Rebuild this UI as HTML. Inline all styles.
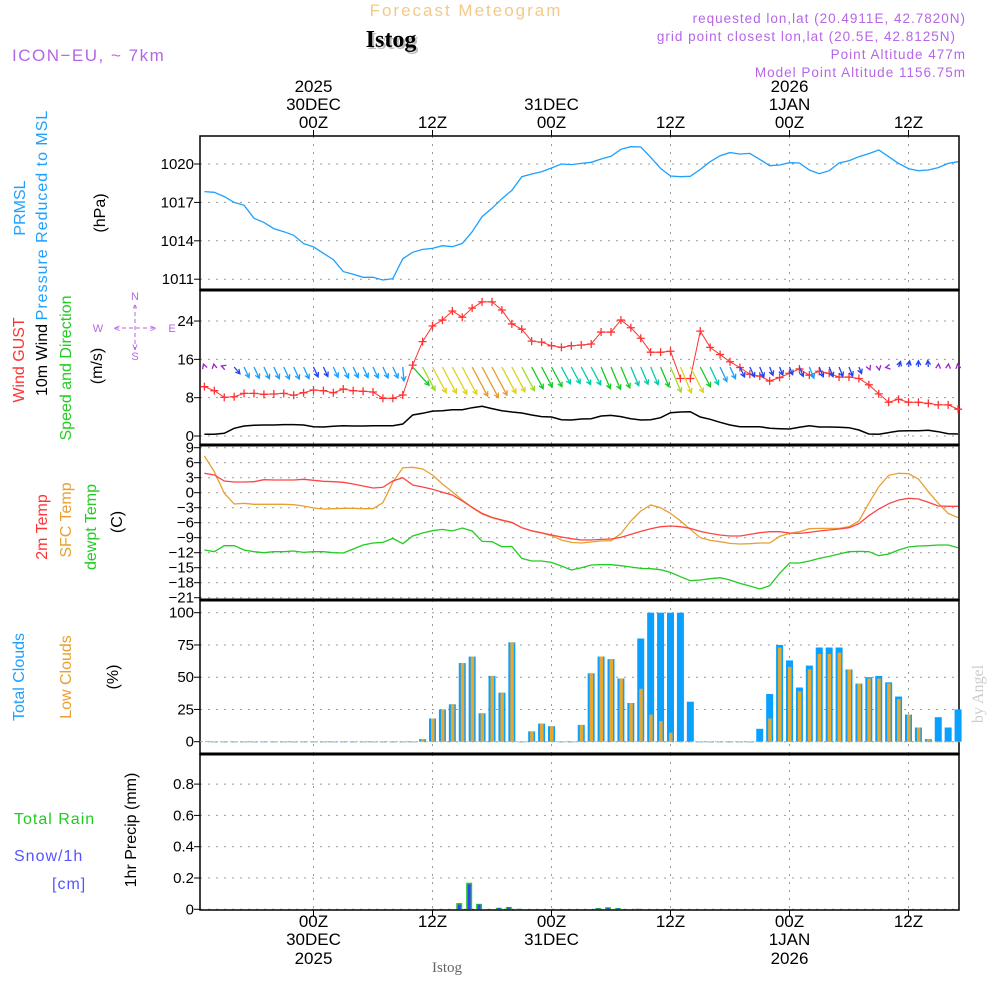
<!DOCTYPE html>
<html><head><meta charset="utf-8"><style>
html,body{margin:0;padding:0;background:#fff;}
svg{display:block;font-family:"Liberation Sans",sans-serif;}
</style></head><body>
<svg id="chart" width="1000" height="1000" viewBox="0 0 1000 1000">
<g id="header">
<text x="466" y="16" font-size="17" fill="#f3c98a" text-anchor="middle" letter-spacing="2">Forecast Meteogram</text>
<text x="393" y="49" font-size="24" font-weight="bold" fill="#bbb" text-anchor="middle" font-family="Liberation Serif,serif">Istog</text>
<text x="391" y="47" font-size="24" font-weight="bold" fill="#000" text-anchor="middle" font-family="Liberation Serif,serif">Istog</text>
<text x="12" y="61" font-size="17" fill="#b566e8" letter-spacing="1.5">ICON−EU, ~ 7km</text>
<g font-size="13.5" fill="#b566e8" text-anchor="end" letter-spacing="1">
<text x="966" y="23">requested lon,lat (20.4911E, 42.7820N)</text>
<text x="956" y="41">grid point closest lon,lat (20.5E, 42.8125N)</text>
<text x="966" y="59">Point Altitude 477m</text>
<text x="966" y="77">Model Point Altitude 1156.75m</text>
</g>
</g>
<g id="frames"></g>
<g id="plots"></g>
<g id="labels" font-size="15">
<g>
<text transform="translate(25,208) rotate(-90)" fill="#1ea0ff" text-anchor="middle" font-size="16">PRMSL</text>
<text transform="translate(47,215) rotate(-90)" fill="#1ea0ff" text-anchor="middle" font-size="16" letter-spacing="1">Pressure Reduced to MSL</text>
<text transform="translate(105,213) rotate(-90)" fill="#000" text-anchor="middle" font-size="16">(hPa)</text>
</g>
<g>
<text transform="translate(24,360) rotate(-90)" fill="#ff3333" text-anchor="middle" font-size="16">Wind GUST</text>
<text transform="translate(47,360) rotate(-90)" fill="#000" text-anchor="middle" font-size="16">10m Wind</text>
<text transform="translate(71,368) rotate(-90)" fill="#22cc22" text-anchor="middle" font-size="16">Speed and Direction</text>
<text transform="translate(102,366) rotate(-90)" fill="#000" text-anchor="middle" font-size="16">(m/s)</text>
</g>
<g fill="#b566e8" stroke="none" font-size="11" text-anchor="middle">
<text x="135" y="300">N</text><text x="135" y="360">S</text><text x="98" y="332">W</text><text x="172" y="332">E</text>
<line x1="115" y1="328" x2="157" y2="328" stroke="#b566e8" stroke-dasharray="4,3"/>
<line x1="135" y1="305" x2="135" y2="350" stroke="#b566e8" stroke-dasharray="4,3"/>
<text x="135" y="312" font-size="10">^</text><text x="135" y="350" font-size="10">v</text>
<text x="117" y="332" font-size="11">&lt;</text><text x="153" y="332" font-size="11">&gt;</text>
</g>
<g>
<text transform="translate(47,527) rotate(-90)" fill="#ff3333" text-anchor="middle" font-size="16">2m Temp</text>
<text transform="translate(71,520) rotate(-90)" fill="#e8a030" text-anchor="middle" font-size="16">SFC Temp</text>
<text transform="translate(96,527) rotate(-90)" fill="#22cc22" text-anchor="middle" font-size="16">dewpt Temp</text>
<text transform="translate(122,522) rotate(-90)" fill="#000" text-anchor="middle" font-size="16">(C)</text>
</g>
<g>
<text transform="translate(24,677) rotate(-90)" fill="#1ea0ff" text-anchor="middle" font-size="16">Total Clouds</text>
<text transform="translate(71,677) rotate(-90)" fill="#e8a030" text-anchor="middle" font-size="16">Low Clouds</text>
<text transform="translate(118,677) rotate(-90)" fill="#000" text-anchor="middle" font-size="16">(%)</text>
</g>
<g>
<text x="14" y="824" fill="#22cc22" font-size="16" letter-spacing="1">Total   Rain</text>
<text x="14" y="861" fill="#5555ff" font-size="16" letter-spacing="1">Snow/1h</text>
<text x="52" y="889" fill="#5555ff" font-size="16" letter-spacing="1">[cm]</text>
<text transform="translate(136,830) rotate(-90)" fill="#000" text-anchor="middle" font-size="16">1hr Precip (mm)</text>
</g>
<text transform="translate(983,694) rotate(-90)" fill="#ccc" text-anchor="middle" font-size="16" font-family="Liberation Serif,serif">by Angel</text>
<text x="447" y="972" fill="#666" text-anchor="middle" font-size="15" font-family="Liberation Serif,serif">Istog</text>
</g>
</svg>
<script>
// ---- data (hourly, hours relative to 30DEC 00Z) ----
const hourStart = -11;
const pressure = [1017.84,1017.79,1017.45,1017.0,1016.77,1015.76,1015.44,1014.95,1014.71,1014.43,1013.78,1013.52,1013.02,1012.53,1011.59,1011.38,1011.15,1011.15,1010.94,1011.04,1012.6,1013.1,1013.33,1013.41,1013.62,1013.54,1013.8,1014.71,1015.89,1016.54,1017.29,1017.94,1019.01,1019.22,1019.4,1019.69,1020.0,1019.95,1020.05,1020.13,1020.39,1020.6,1021.15,1021.35,1021.33,1020.52,1019.66,1019.06,1019.01,1019.04,1019.58,1020.18,1020.65,1020.89,1020.78,1020.83,1020.36,1019.87,1019.92,1020.1,1020.08,1019.53,1019.24,1019.48,1020.08,1020.26,1020.57,1020.81,1021.09,1020.57,1020.05,1019.64,1019.48,1019.53,1019.72,1020.05,1020.18];
const gust = [10.3,9.46,8.07,8.2,8.9,8.9,8.7,8.77,8.9,8.5,9.04,9.6,9.46,9.04,9.8,9.46,9.33,9.19,7.87,7.87,8.56,14.8,19.7,22.96,24.2,26.1,24.8,26.7,28.0,28.0,26.3,23.4,22.3,19.8,19.6,18.85,18.5,18.85,19.0,19.2,21.7,21.7,24.2,22.6,20.4,17.5,17.5,17.7,12.0,12.0,21.9,18.5,17.0,15.5,14.3,12.9,12.5,11.5,12.2,13.1,14.0,12.7,13.5,13.1,12.3,12.3,12.0,10.7,8.8,7.05,7.66,7.05,7.05,6.8,6.5,6.5,5.6];
const windSpeed = [0.35,0.35,0.56,1.6,2.09,2.23,2.3,2.3,2.37,2.37,2.3,1.95,1.88,2.02,2.16,2.09,2.09,2.16,2.16,2.16,2.5,4.38,4.73,5.2,5.29,5.5,5.5,5.9,6.19,5.71,5.29,5.01,4.8,4.38,4.04,3.97,3.41,3.34,3.55,3.62,4.18,4.31,4.04,3.62,3.34,3.41,3.83,4.87,5.01,5.08,3.97,3.48,2.85,2.3,1.95,1.95,1.95,1.6,1.53,1.46,1.81,2.16,1.88,1.88,1.81,1.74,1.25,0.42,0.35,0.7,1.04,1.11,1.11,1.18,0.9,0.49,0.42];
const windDir = [160,170,110,320,335,335,335,335,335,335,335,335,335,335,335,335,335,335,335,335,355,318,332,332,332,332,332,332,332,332,332,332,332,332,332,332,332,332,332,332,337,337,337,337,337,337,337,337,337,333,333,335,335,335,335,335,338,338,338,338,338,338,338,338,338,338,338,338,350,80,200,190,180,175,185,185,170,260].slice(0,77);
const temp2m = [3.87,3.54,2.34,2.14,2.14,2.2,2.6,2.54,2.54,2.54,2.67,2.47,2.27,2.2,2.07,1.74,1.34,0.94,1.07,2.34,3.0,1.54,1.14,0.67,0.07,-0.46,-1.66,-2.93,-4.13,-4.93,-5.46,-5.93,-7.0,-7.6,-8.0,-8.46,-8.86,-9.2,-9.46,-9.46,-9.33,-9.26,-8.93,-8.33,-7.73,-7.2,-6.8,-6.66,-6.8,-7.13,-7.73,-8.13,-8.46,-8.66,-8.66,-8.33,-8.0,-7.8,-7.8,-8.06,-8.13,-7.93,-7.66,-7.46,-7.26,-7.0,-6.2,-4.6,-3.26,-2.2,-1.46,-1.13,-1.26,-1.93,-2.66,-2.73,-2.73];
const tempSfc = [7.34,4.2,-0.12,-2.26,-2.13,-2.33,-2.33,-2.33,-2.33,-2.4,-2.66,-3.06,-3.26,-3.2,-3.13,-3.13,-3.2,-3.2,-2.0,2.07,5.0,5.07,4.74,3.54,1.74,0.2,-1.46,-3.0,-4.26,-5.0,-5.53,-6.0,-7.0,-7.66,-8.06,-8.6,-9.46,-9.93,-10.06,-9.86,-9.66,-9.6,-8.2,-5.66,-3.66,-2.46,-3.0,-4.13,-5.6,-7.33,-9.0,-9.53,-9.8,-10.13,-10.26,-10.2,-10.06,-10.06,-8.73,-8.13,-7.8,-7.2,-7.13,-7.13,-7.13,-6.8,-5.66,-2.13,1.2,3.47,3.87,3.8,2.74,0.2,-2.13,-4.13,-5.0];
const dewpt = [-11.46,-11.8,-10.6,-10.6,-11.46,-11.8,-12.0,-11.8,-11.8,-11.66,-11.93,-11.8,-11.8,-12.0,-12.06,-11.26,-10.46,-10.06,-9.93,-9.13,-10.2,-8.66,-8.06,-7.6,-7.33,-7.66,-7.06,-7.66,-9.73,-9.8,-10.8,-10.73,-13.13,-13.66,-13.66,-13.93,-14.66,-15.46,-15.0,-14.46,-14.4,-14.4,-14.6,-14.86,-15.13,-15.2,-15.4,-15.93,-16.8,-17.6,-17.46,-17.2,-17.0,-17.46,-18.13,-18.66,-19.26,-18.6,-16.13,-14.06,-14.06,-13.66,-13.13,-12.73,-12.26,-11.8,-11.73,-11.8,-12.6,-12.26,-11.46,-10.86,-10.66,-10.6,-10.46,-10.46,-11.0];
const cloudStart = -10;
const totalClouds = [0,0,0,0,0,0,0,0,0,0,0,0,0,0,0,0,0,0,0,0,0,2,18,25,29,61,66,22,51,38,77,0,8,14,12,0,0,13,53,66,64,49,30,80,100,100,100,100,31,0,0,0,0,0,0,10,37,75,63,42,59,73,73,73,56,45,50,51,46,35,21,11,2,19,11,25];
const lowClouds = [0,0,0,0,0,0,0,0,0,0,0,0,0,0,0,0,0,0,0,0,0,2,18,25,29,61,66,22,51,38,77,0,8,14,12,0,0,13,53,66,64,49,30,41,21,16,7,0,0,0,0,0,0,0,0,0,18,73,58,39,56,68,68,69,56,45,49,49,45,33,21,11,2,0,0,0];
const precipHours = [15,16,17,19,20,21,29,30,31,33];
const precipTotal = [0.04,0.17,0.035,0.01,0.015,0.003,0.008,0.013,0.008,0.003];
const snowTotal = [0.03,0.16,0.03,0.008,0.012,0.003,0.006,0.01,0.006,0.003];
const pressTicks = [1011,1014,1017,1020];
const windTicks = [0,8,16,24];
const tempTicks = [9,6,3,0,-3,-6,-9,-12,-15,-18,-21];
const cloudTicks = [0,25,50,75,100];
const precipTicks = [0,0.2,0.4,0.6,0.8];
const timeTickHours = [0,12,24,36,48,60];
const topLabels = [["2025","30DEC","00Z"],["","","12Z"],["","31DEC","00Z"],["","","12Z"],["2026","1JAN","00Z"],["","","12Z"]];
const bottomLabels = [["00Z","30DEC","2025"],["12Z","",""],["00Z","31DEC",""],["12Z","",""],["00Z","1JAN","2026"],["12Z","",""]];

// ---- axes ----
const X0=200, X1=959;
const x = h => 313.5 + h*119/12;
const yP = p => 164 - (p-1020)*38.4/3;
const yW = v => 436 - v*4.79;
const yT = t => 492.7 - t*5;
const yC = c => 741.7 - c*1.29;
const yR = r => 909.3 - r*156.5;
const panels = [[136,290],[290,445],[445,600],[600,754],[754,910]];

const NS="http://www.w3.org/2000/svg";
const plots=document.getElementById('plots');
const frames=document.getElementById('frames');
function mk(tag,attrs,parent){const e=document.createElementNS(NS,tag);for(const k in attrs)e.setAttribute(k,attrs[k]);(parent||plots).appendChild(e);return e;}

// grids
const grid=mk('g',{},frames);


timeTickHours.forEach(h=>{
  panels.forEach(p=>{
    const l=mk('line',{x1:x(h),x2:x(h),y1:p[0],y2:p[1],stroke:'#999','stroke-dasharray':'2,6'},grid);
    
    
  });
});
function hgrid(ticks,yf,fmt,name){
  const g=mk('g',{},frames);
  
  
  ticks.forEach(t=>{
    const y=yf(t);
    mk('line',{x1:X0,x2:X1,y1:y,y2:y,stroke:'#999','stroke-dasharray':'2,6'},g);
    mk('line',{x1:X0-6,x2:X0,y1:y,y2:y,stroke:'#000'},g);
    const tx=mk('text',{x:X0-6,y:y+5,'text-anchor':'end','font-size':15,fill:'#000'},g);
    tx.textContent=fmt(t);
  });
}
hgrid(pressTicks,yP,t=>t,'pressure-y-axis');
hgrid(windTicks,yW,t=>t,'wind-y-axis');
hgrid(tempTicks,yT,t=>t<0?'−'+(-t):t,'temp-y-axis');
hgrid(cloudTicks,yC,t=>t,'cloud-y-axis');
hgrid(precipTicks,yR,t=>t===0?'0':t.toFixed(1),'precip-y-axis');

// frames
panels.forEach((p,i)=>{
  const r=mk('rect',{x:X0,y:p[0],width:X1-X0,height:p[1]-p[0],fill:'none',stroke:'#000','stroke-width':i==0?1.5:1.5},frames);
  
  
});
[290,445,600,754].forEach(y=>{mk('line',{x1:X0,x2:X1,y1:y,y2:y,stroke:'#000','stroke-width':3},frames);});

// time labels
const tl=mk('g',{'font-size':17,fill:'#000','text-anchor':'middle'},frames);


timeTickHours.forEach((h,i)=>{
  [86,104,122].forEach((yy,j)=>{ if(topLabels[i][j]){const t=mk('text',{x:x(h),y:yy+6},tl);t.textContent=topLabels[i][j];}});
  [927,945,964].forEach((yy,j)=>{ if(bottomLabels[i][j]){const t=mk('text',{x:x(h),y:yy},tl);t.textContent=bottomLabels[i][j];}});
  mk('line',{x1:x(h),x2:x(h),y1:130,y2:136,stroke:'#000'},tl);
  mk('line',{x1:x(h),x2:x(h),y1:910,y2:916,stroke:'#000'},tl);
});

function linePath(arr,start,yf,color,name,w){
  const d=arr.map((v,i)=>(i?'L':'M')+x(start+i).toFixed(1)+','+yf(v).toFixed(1)).join('');
  const p=mk('path',{d:d,fill:'none',stroke:color,'stroke-width':w||1.3});
  
  
}
// pressure
linePath(pressure,hourStart,yP,'#1ea0ff','pressure-line');
// wind speed
linePath(windSpeed,hourStart,yW,'#000','wind-speed-line',1.5);
// gust
linePath(gust,hourStart,yW,'#ff3333','gust-line',1);
gust.forEach((v,i)=>{
  const cx=x(hourStart+i), cy=yW(v);
  const m=mk('path',{d:`M${cx-4},${cy}H${cx+4}M${cx},${cy-4}V${cy+4}`,stroke:'#ff3333','stroke-width':1.3});
  
  
});
// wind arrows
function wcol(v){return v<1?'#9922cc':v<2?'#2244ee':v<3?'#1aa0ff':v<3.8?'#00ccaa':v<4.5?'#11cc22':v<5?'#99dd22':v<5.6?'#e0d020':'#e89a30';}
windDir.forEach((d,i)=>{
  const v=windSpeed[i], c=wcol(v);
  const to=(d+180)*Math.PI/180;
  const ux=Math.sin(to), uy=-Math.cos(to);
  const L=v<1?3:5.6*v;
  const bx=x(hourStart+i), by=367;
  const ex=bx+ux*L, ey=by+uy*L;
  const a=0.5, hl=5;
  const lx=ex-hl*(ux*Math.cos(a)-uy*Math.sin(a)), ly=ey-hl*(uy*Math.cos(a)+ux*Math.sin(a));
  const rx=ex-hl*(ux*Math.cos(-a)-uy*Math.sin(-a)), ry=ey-hl*(uy*Math.cos(-a)+ux*Math.sin(-a));
  const dd=(v<1?'':`M${bx},${by}L${ex},${ey}`)+`M${lx},${ly}L${ex},${ey}L${rx},${ry}`;
  const p=mk('path',{d:dd,fill:'none',stroke:c,'stroke-width':1.3});
  
  
});
// temps
linePath(tempSfc,hourStart,yT,'#e8a030','sfc-temp-line');
linePath(temp2m,hourStart,yT,'#ff4444','temp-2m-line');
linePath(dewpt,hourStart,yT,'#22cc22','dewpoint-line');
// clouds
totalClouds.forEach((v,i)=>{
  const cx=x(cloudStart+i);
  const r=mk('rect',{x:cx-3.5,y:yC(v),width:7,height:Math.max(0.6,yC(0)-yC(v)),fill:'#0aa0ff'});
  
  
  const l=lowClouds[i];
  const r2=mk('rect',{x:cx-1.5,y:yC(l),width:3.5,height:Math.max(0.6,yC(0)-yC(l)),fill:'#e8a830'});
  
  
});
// precip
precipHours.forEach((h,i)=>{
  const cx=x(h)-3;
  const r=mk('rect',{x:cx-3,y:yR(precipTotal[i]),width:6,height:yR(0)-yR(precipTotal[i]),fill:'#22cc22'});
  
  
  const s=mk('rect',{x:cx-1.5,y:yR(snowTotal[i]),width:3,height:yR(0)-yR(snowTotal[i]),fill:'#3344ff'});
  
  
});
mk('line',{x1:X0,x2:X1,y1:741.7,y2:741.7,stroke:'#9bb','stroke-dasharray':'3,2','stroke-width':0.8});
</script>
</body></html>
